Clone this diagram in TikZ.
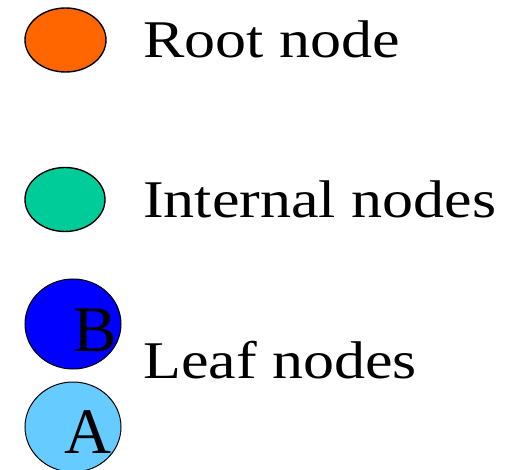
\documentclass[tikz,border=0pt]{standalone}
\usepackage{fontspec}
\setmainfont{Liberation Serif}
\newfontfamily\widefont[FakeStretch=1.17]{Liberation Serif}
\usetikzlibrary{shapes.geometric}
\definecolor{rootcol}{HTML}{FF6600}
\definecolor{internalcol}{HTML}{00CC99}
\definecolor{leafB}{HTML}{0000FF}
\definecolor{leafA}{HTML}{66CCFF}
\begin{document}
\begin{tikzpicture}[x=1pt,y=-1pt,
  blob/.style={ellipse, draw=black, inner sep=0pt},
  label/.style={anchor=base west, inner sep=0pt, font=\widefont\fontsize{53}{60}\selectfont},
  letter/.style={anchor=base west, inner sep=0pt, font=\fontsize{65}{70}\selectfont}]
  \useasboundingbox (0,0) rectangle (522,470);
  % legend symbols
  \node[blob, fill=rootcol, line width=1.4pt, minimum width=81, minimum height=64] (root) at (65.5,40) {};
  \node[blob, fill=internalcol, line width=1.4pt, minimum width=80, minimum height=64] (internal) at (65,199.5) {};
  \node[blob, fill=leafB, line width=1pt, minimum width=96, minimum height=90] (leafb) at (73,324) {};
  \node[blob, fill=leafA, line width=1pt, minimum width=96, minimum height=90] (leafa) at (73,427) {};
  \node[letter] (lb) at (73,351) {B};
  \node[letter] (la) at (64,453) {A};
  % legend labels
  \node[label] (troot) at (143,58) {Root node};
  \node[label] (tint) at (143,218) {Internal nodes};
  \node[label] (tleaf) at (143,378) {Leaf nodes};
\end{tikzpicture}
\end{document}
